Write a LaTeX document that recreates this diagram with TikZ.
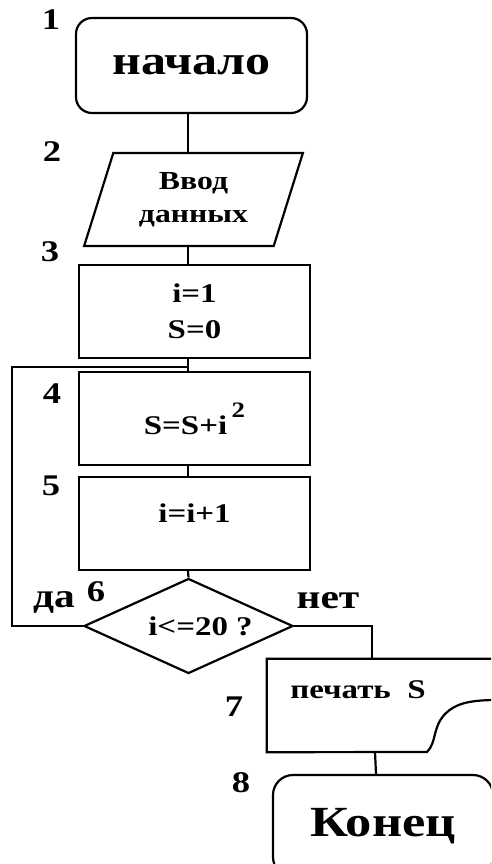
\documentclass[tikz,border=0pt]{standalone}
\usepackage{fontspec}
\setmainfont{Liberation Serif}[FakeStretch=1.22]
\usepackage {tikz}
\usetikzlibrary {positioning}
\usetikzlibrary{shapes.geometric}
\usetikzlibrary{calc}
\newcommand{\sz}[2]{\fontsize{#1}{#2}\selectfont\bfseries}
\tikzset{
    block/.style = {draw, line width=2.2pt, inner sep=0pt, align=center},
    terminal/.style = {block, rectangle, rounded corners=16pt},
    dataio/.style = {block, trapezium, trapezium left angle=70, trapezium right angle=110,
        trapezium stretches=true, minimum width=219pt, minimum height=93pt, font=\sz{26}{33}},
    process/.style = {block, rectangle, minimum width=231pt, minimum height=93pt, font=\sz{27}{36}},
    decision/.style = {block, diamond, aspect=2, minimum width=209pt, minimum height=95pt, font=\sz{27}{30}},
    printout/.style = {rectangle, inner sep=0pt, minimum width=230pt, minimum height=93pt},
    num/.style = {font=\sz{30}{30}, inner sep=0pt},
    answer/.style = {font=\sz{34}{34}, inner sep=0pt},
    conn/.style = {line width=2.2pt}}

\begin{document}
\begin{tikzpicture}[x=1pt,y=-1pt]
        \useasboundingbox (0,0) rectangle (491,864);
        \clip (0,0) rectangle (491,864);
        \coordinate (axis) at (188,0);
        \coordinate (join) at (188,367);
        \coordinate (loop) at (12,367);
        % main column
        \node[terminal, minimum width=231pt, minimum height=95pt, font=\sz{41}{46}] (start) at (191.5,65.5) {начало};
        \node[dataio] (input) at (193.5,199.5) {Ввод\\данных};
        \node[process] (init) at (194.5,311.5) {i=1\\S=0};
        \node[process] (sum) at (194.5,418.5) {S=S+i\,\raisebox{17pt}{\fontsize{22}{22}\selectfont 2}};
        \node[process, text depth=20pt] (incr) at (194.5,523.5) {i=i+1};
        \node[decision] (cond) at (188.5,626) {\hspace*{24pt}i<=20 ?};
        \node[printout] (out) at (382,705.5) {};
        \node[font=\sz{27}{30}, inner sep=0pt] (outtext) at (358,690) {печать~ S};
        \node[terminal, minimum width=220pt, minimum height=102pt, rounded corners=20pt, font=\sz{43}{46}] (stop) at (383,826) {Конец};
        % output shape with torn edge
        \draw[conn] (out.north east) -- (out.north west) -- (out.south west) -- (427,752)
            .. controls (437,742) and (432,728) .. (445,714)
            .. controls (455,704) and (468,700) .. (497,700) -- (out.north east);
        % block numbers
        \foreach \n/\x/\y in {1/51/20, 2/52/152, 3/50/252, 4/52/394, 5/51/486, 6/96/592, 7/234/707, 8/241/783}
            \node[num] (n\n) at (\x,\y) {\n};
        \node[answer] (yes) at (54,602) {да};
        \node[answer] (no) at (328,601) {нет};
        % connectors
        \draw[conn] (start.south -| axis) -- (input.north -| axis);
        \draw[conn] (input.south -| axis) -- (init.north -| axis);
        \draw[conn] (init.south -| axis) -- (sum.north -| axis);
        \draw[conn] (sum.south -| axis) -- (incr.north -| axis);
        \draw[conn] (incr.south -| axis) -- (cond.north);
        \draw[conn] (cond.west) -| (loop) -- (join);
        \draw[conn] (cond.east) -| ([xshift=-10pt]out.north);
        \draw[conn] ([xshift=-7pt]out.south) -- ([xshift=-7pt]stop.north);
    \end{tikzpicture}
\end{document}
